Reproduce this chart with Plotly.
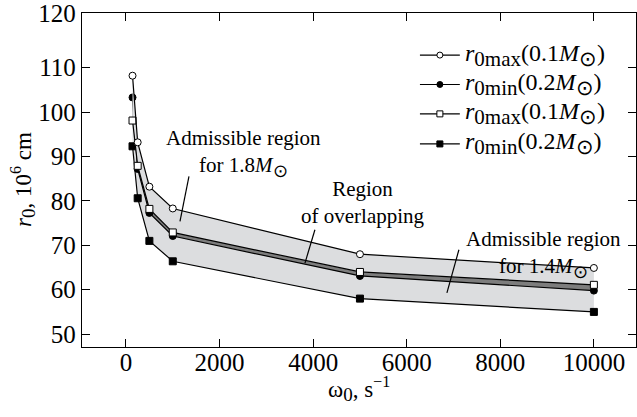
import plotly.graph_objects as go

omega = [140, 250, 500, 1000, 5000, 10000]
r0max_18 = [108.2, 93.2, 83.2, 78.3, 68.0, 64.9]   # open circles
r0min_18 = [103.3, 87.2, 77.3, 72.1, 63.1, 59.8]   # filled circles
r0max_14 = [98.1, 87.9, 78.2, 72.9, 64.0, 61.1]    # open squares
r0min_14 = [92.3, 80.6, 71.0, 66.4, 58.0, 55.0]    # filled squares

x_ticks = [0, 2000, 4000, 6000, 8000, 10000]
x_ticktext = ["0", "2000", "4000", "6000", "8000", "10000"]
y_ticks = [50, 60, 70, 80, 90, 100, 110, 122.3]
y_ticktext = ["50", "60", "70", "80", "90", "100", "110", "120"]

FONT = "Liberation Serif, Times New Roman, serif"
LIGHT = "#dcdddf"
DARK = "#7d7d7d"


def sub(t, px):
    return "<sub><span style='font-size:%dpx'>%s</span></sub>" % (px, t)


def lab(kind, mass, px):
    return "<i>r</i>" + sub("0" + kind, px) + "(" + mass + "<i>M</i>" + sub("⊙", px) + ")"


series = [
    # (y, kind, mass, symbol, marker colour, fill colour)
    (r0min_14, "min", "0.2", "square", "black", None),
    (r0min_18, "min", "0.2", "circle", "black", LIGHT),
    (r0max_14, "max", "0.1", "square", "white", DARK),
    (r0max_18, "max", "0.1", "circle", "white", LIGHT),
]
legend_order = [3, 1, 2, 0]

fig = go.Figure()
line = dict(color="black", width=1.2)

for y, kind, mass, sym, mcol, fcol in series:
    fig.add_trace(go.Scatter(
        x=omega, y=y, mode="lines+markers", name=lab(kind, mass, 16), showlegend=False,
        line=line, fill="tonexty" if fcol else None, fillcolor=fcol,
        marker=dict(symbol=sym, size=7, color=mcol, line=dict(color="black", width=1))))

# hand-built legend (line sample + marker + label)
leg_rows = [0.874, 0.786, 0.698, 0.608]
leg_x0, leg_xm, leg_x1, leg_xt = 0.610, 0.646, 0.682, 0.688
for row, i in zip(leg_rows, legend_order):
    y, kind, mass, sym, mcol, fcol = series[i]
    fig.add_shape(type="line", xref="paper", yref="paper", x0=leg_x0, x1=leg_x1,
                  y0=row, y1=row, line=dict(color="black", width=1.2))
    fig.add_shape(type="circle" if sym == "circle" else "rect",
                  xref="paper", yref="paper", xsizemode="pixel", ysizemode="pixel",
                  xanchor=leg_xm, yanchor=row, x0=-3, x1=3, y0=-3, y1=3,
                  fillcolor=mcol, line=dict(color="black", width=1))
    fig.add_annotation(x=leg_xt, y=row, xref="paper", yref="paper", showarrow=False,
                       xanchor="left", yanchor="middle", text=lab(kind, mass, 21),
                       font=dict(family=FONT, size=24, color="black"))

# leader lines for the region labels
leaders = [((1346, 85.5), (1154, 75.4)),
           ((4038, 73.5), (3825, 66.0)),
           ((7115, 69.0), (6859, 59.3))]
for (x0, y0), (x1, y1) in leaders:
    fig.add_shape(type="line", x0=x0, y0=y0, x1=x1, y1=y1, xref="x", yref="y",
                  line=dict(color="black", width=1.2))

ann_font = dict(family=FONT, size=21, color="black")
fig.add_annotation(x=2521, y=90.6, xref="x", yref="y", showarrow=False,
                   text="Admissible region<br>for 1.8<i>M</i>" + sub("⊙", 18), font=ann_font)
fig.add_annotation(x=5064, y=79.7, xref="x", yref="y", showarrow=False,
                   text="Region<br>of overlapping", font=ann_font)
fig.add_annotation(x=8932, y=68.0, xref="x", yref="y", showarrow=False,
                   text="Admissible region<br>for 1.4<i>M</i>" + sub("⊙", 18), font=ann_font)

# axis titles
title_font = dict(family=FONT, size=23, color="black")
fig.add_annotation(x=0.5, y=0, xref="paper", yref="paper", yshift=-42,
                   xanchor="center", yanchor="middle", showarrow=False,
                   text="ω" + sub("0", 19) + ", s<sup>−1</sup>", font=title_font)
fig.add_annotation(x=0, y=0.5, xref="paper", yref="paper", xshift=-59,
                   xanchor="center", yanchor="middle", showarrow=False, textangle=-90,
                   text="<i>r</i>" + sub("0", 19) + ", 10<sup>6</sup> cm", font=title_font)

fig.update_layout(
    width=637, height=417,
    margin=dict(l=82, r=1, t=13, b=70, autoexpand=False),
    paper_bgcolor="white", plot_bgcolor="white",
    font=dict(family=FONT, size=25, color="black"),
    showlegend=False,
    xaxis=dict(range=[-940, 10900], tickvals=x_ticks, ticktext=x_ticktext,
               ticks="inside", ticklen=8, automargin=False, ticklabelstandoff=-7,
               showline=True, linecolor="black", linewidth=1.3, mirror="ticks",
               tickcolor="black", tickwidth=1.2, showgrid=False, zeroline=False),
    yaxis=dict(range=[47.1, 122.32], tickvals=y_ticks, ticktext=y_ticktext,
               ticks="inside", ticklen=8, automargin=False, ticklabeloverflow="allow",
               showline=True, linecolor="black", linewidth=1.3, mirror="ticks",
               tickcolor="black", tickwidth=1.2, showgrid=False, zeroline=False),
)

# remove the browser's default 8px body margin so the figure fills the window
fig.write_html("out.html", config={"displayModeBar": False},
               post_script="document.body.style.margin='0px';")
